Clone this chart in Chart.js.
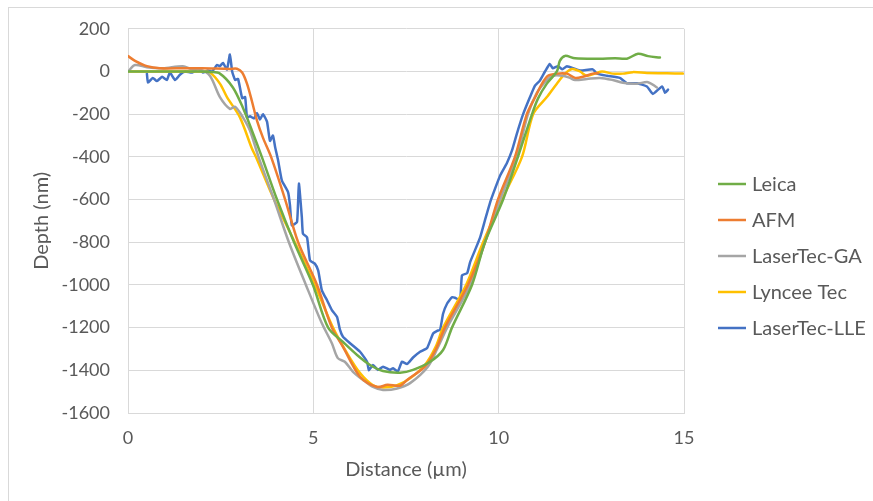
<!DOCTYPE html>
<html>
<head>
<meta charset="utf-8">
<script src="https://cdn.jsdelivr.net/npm/chart.js@4.4.1/dist/chart.umd.min.js"></script>
<style>
  html, body { margin: 0; padding: 0; background: #fff; overflow: hidden; }
  #frame { position: absolute; left: 8px; top: 7px; width: 900px; height: 520px; border: 1px solid #d9d9d9; }
  #wrap { position: absolute; left: 0; top: 0; width: 873px; height: 501px; }
</style>
</head>
<body>
<div id="frame"></div>
<div id="wrap"><canvas id="depthChart" width="873" height="501"></canvas></div>
<script>
// depth profiles across the trench, distance in µm, depth in nm
const leicaX = [0, 1, 2.0, 2.21, 2.48, 2.83, 3.10, 3.34, 3.61, 4.02, 4.48, 4.99, 5.40, 5.80, 6.18, 6.53, 6.88, 7.34, 7.69, 8.15, 8.50, 8.74, 9.28, 9.63, 10.12, 10.52, 10.90, 11.06, 11.30, 11.57, 11.65, 11.79, 12.06, 12.73, 13.14, 13.46, 13.76, 14.03, 14.35];
const leicaY = [0, 0, 0, -2, -10, -75, -170, -275, -400, -600, -800, -1000, -1200, -1267, -1328, -1375, -1403, -1411, -1398, -1360, -1305, -1200, -1000, -800, -600, -400, -200, -127, -57, 0, 50, 73, 62, 60, 62, 60, 83, 72, 65];

const afmX = [0, 0.19, 0.51, 0.86, 1.5, 2.0, 2.75, 2.94, 3.08, 3.21, 3.34, 3.48, 3.64, 3.86, 4.24, 4.59, 5.10, 5.50, 5.80, 6.26, 6.72, 7.0, 7.34, 7.53, 8.01, 8.31, 8.55, 9.17, 9.63, 9.98, 10.44, 10.76, 10.98, 11.17, 11.33, 11.57, 11.84, 12.06, 12.27, 12.54, 12.68];
const afmY = [72, 50, 25, 15, 15, 15, 12, 13, -5, -57, -137, -230, -310, -400, -600, -800, -1000, -1200, -1290, -1430, -1478, -1468, -1472, -1445, -1383, -1300, -1200, -1000, -800, -600, -400, -200, -122, -57, -20, -10, -10, -30, -25, -10, -8];

const gaX = [0, 0.19, 0.51, 0.94, 1.48, 1.73, 1.94, 2.21, 2.48, 2.75, 2.89, 3.10, 3.29, 3.52, 3.94, 4.34, 4.80, 5.23, 5.50, 5.66, 5.85, 6.07, 6.34, 6.61, 6.88, 7.26, 7.61, 8.09, 8.34, 8.61, 9.23, 9.63, 10.04, 10.49, 10.79, 11.03, 11.30, 11.46, 11.73, 11.92, 12.06, 12.38, 12.73, 13.08, 13.35, 13.73, 14.03, 14.27];
const gaY = [0, 30, 20, 15, 25, 10, 10, -20, -120, -175, -165, -215, -277, -400, -600, -800, -1000, -1180, -1273, -1343, -1360, -1407, -1445, -1478, -1492, -1485, -1460, -1383, -1300, -1200, -1000, -800, -600, -400, -200, -100, -40, -20, -20, -30, -40, -35, -30, -40, -53, -57, -50, -75];

const lynceeX = [0, 1, 2.0, 2.21, 2.48, 2.67, 3.02, 3.34, 3.45, 3.94, 4.50, 5.04, 5.53, 5.91, 6.26, 6.61, 6.88, 7.26, 7.61, 8.01, 8.30, 8.50, 9.12, 9.58, 10.09, 10.63, 10.93, 11.30, 11.57, 11.79, 11.98, 12.19, 12.38, 12.60, 12.79, 13.08, 13.35, 13.62, 14.00, 14.54, 14.97];
const lynceeY = [0, 0, 0, -5, -57, -120, -215, -360, -400, -600, -800, -1000, -1200, -1320, -1413, -1470, -1480, -1470, -1437, -1375, -1290, -1200, -1000, -800, -600, -400, -200, -120, -57, -10, 12, 0, -20, -10, 0, -10, -10, -3, -7, -8, -10];

const lleX = [0.51, 0.54, 0.67, 0.78, 0.92, 1.05, 1.13, 1.27, 1.40, 1.54,
  1.73, 1.89, 2.02, 2.16, 2.27, 2.40, 2.48, 2.56, 2.67, 2.75,
  2.81, 2.89, 2.97, 3.08, 3.16, 3.21, 3.29, 3.40, 3.48, 3.56,
  3.64, 3.75, 3.83, 3.91, 3.97, 4.05, 4.15, 4.32, 4.37, 4.42,
  4.56, 4.61, 4.69, 4.72, 4.83, 4.91, 5.04, 5.13, 5.23, 5.37,
  5.50, 5.64, 5.72, 5.80, 5.99, 6.26, 6.45, 6.50, 6.61, 6.74,
  6.88, 7.07, 7.15, 7.28, 7.39, 7.53, 7.69, 7.88, 8.07, 8.23,
  8.34, 8.42, 8.50, 8.61, 8.74, 8.82, 8.96, 9.01, 9.15, 9.23,
  9.36, 9.50, 9.63, 9.77, 9.90, 10.04, 10.22, 10.36, 10.49, 10.66,
  10.84, 10.98, 11.11, 11.25, 11.38, 11.46, 11.60, 11.72, 11.84, 12.19,
  12.54, 12.65, 12.92, 13.27, 13.46, 13.73, 14.00, 14.16, 14.41, 14.49,
  14.57];
const lleY = [-10, -52, -30, -45, -25, -40, -5, -40, -15, 0,
  -5, 15, -5, 5, 0, 30, 25, 40, 10, 80,
  0, -40, -35, -125, -120, -215, -210, -220, -195, -225,
  -200, -235, -325, -300, -355, -417, -510, -566, -627, -720,
  -705, -525, -683, -760, -777, -885, -900, -932, -1025, -1072,
  -1118, -1150, -1211, -1243, -1273, -1313, -1360, -1400, -1375, -1398,
  -1383, -1398, -1390, -1405, -1360, -1370, -1340, -1313, -1295, -1228,
  -1215, -1210, -1135, -1087, -1058, -1060, -1070, -955, -945, -893,
  -838, -777, -697, -613, -550, -487, -430, -370, -292, -200,
  -122, -66, -43, 0, 35, 15, 25, 10, 25, 5,
  10, -10, -20, -30, -55, -55, -70, -105, -70, -100,
  -85];

const textColor = "#595959";
const gridColor = "#d9d9d9";

function toPoints(xs, ys) {
  return xs.map((x, i) => ({ x: x, y: ys[i] }));
}

function series(label, xs, ys, color, tension) {
  return {
    label: label,
    data: toPoints(xs, ys),
    borderColor: color,
    backgroundColor: color,
    borderWidth: 2.5,
    tension: tension,
    pointRadius: 0,
    fill: false,
    borderJoinStyle: "round",
    borderCapStyle: "round",
  };
}

// legend on the right, drawn from the dataset list
const sideLegend = {
  id: "sideLegend",
  afterDraw(chart) {
    const ctx = chart.ctx;
    ctx.save();
    ctx.font = "20px Lato";
    ctx.fillStyle = textColor;
    ctx.textBaseline = "middle";
    chart.data.datasets.forEach((ds, i) => {
      const y = 184 + i * 36;
      ctx.strokeStyle = ds.borderColor;
      ctx.lineWidth = 2.5;
      ctx.beginPath();
      ctx.moveTo(718, y);
      ctx.lineTo(746, y);
      ctx.stroke();
      ctx.fillText(ds.label, 752, y + 1);
    });
    ctx.restore();
  },
};

const ctx = document.getElementById("depthChart").getContext("2d");

new Chart(ctx, {
  type: "line",
  data: {
    datasets: [
      series("Leica", leicaX, leicaY, "#70AD47", 0.3),
      series("AFM", afmX, afmY, "#ED7D31", 0.3),
      series("LaserTec-GA", gaX, gaY, "#A5A5A5", 0.3),
      series("Lyncee Tec", lynceeX, lynceeY, "#FFC000", 0.3),
      series("LaserTec-LLE", lleX, lleY, "#4472C4", 0.15),
    ],
  },
  options: {
    responsive: false,
    animation: false,
    layout: { padding: { left: 0, right: 189, top: 28, bottom: 0 } },
    plugins: {
      legend: { display: false },
      tooltip: { enabled: false },
    },
    scales: {
      x: {
        type: "linear",
        min: 0,
        max: 15,
        ticks: { stepSize: 5, color: textColor, font: { family: "Lato", size: 18 }, padding: 14 },
        grid: { color: gridColor, drawTicks: false },
        border: { color: gridColor },
        title: {
          display: true,
          text: "Distance (µm)",
          color: textColor,
          font: { family: "Lato", size: 20 },
          padding: { top: 0, bottom: 19 },
        },
        afterFit: (scale) => { scale.height = 88; },
      },
      y: {
        min: -1600,
        max: 200,
        ticks: {
          stepSize: 200,
          color: textColor,
          font: { family: "Lato", size: 18 },
          padding: 18,
          callback: (value) => String(value),
        },
        grid: { color: gridColor, drawTicks: false },
        border: { color: gridColor },
        title: {
          display: true,
          text: "Depth (nm)",
          color: textColor,
          font: { family: "Lato", size: 20 },
          padding: { top: 30, bottom: 0 },
        },
        afterFit: (scale) => { scale.width = 128; },
      },
    },
  },
  plugins: [sideLegend],
});
</script>
</body>
</html>
